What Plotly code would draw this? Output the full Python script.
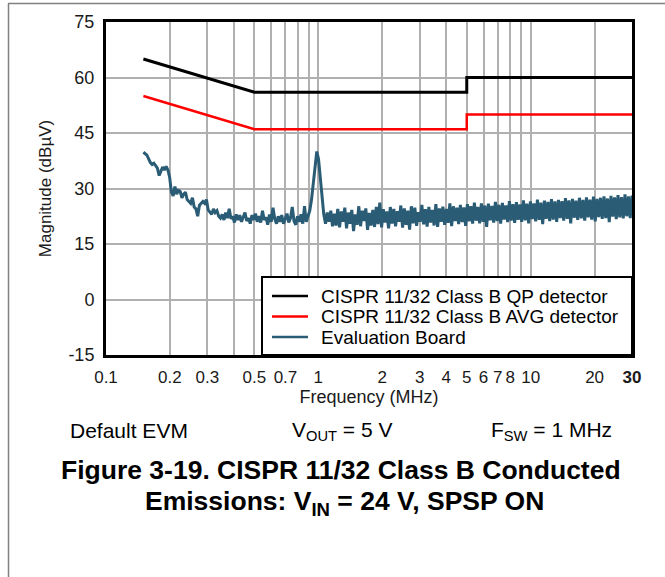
import numpy as np
import plotly.graph_objects as go

# CISPR 11/32 Class B conducted-emission limits (frequency in MHz, level in dBµV)
qp_freq = [0.15, 0.5, 5, 5, 30]
qp_level = [65, 56, 56, 60, 60]
avg_freq = [0.15, 0.5, 5, 5, 30]
avg_level = [55, 46, 46, 50, 50]

# Measured emissions of the evaluation board, one reading per sweep point
evm_dbuv = [
    39.8, 39.5, 39.0, 38.0, 37.0, 36.5, 36.8, 36.2, 35.5, 33.5,
    34.5, 35.8, 35.0, 36.0, 35.0, 33.0, 29.0, 28.0, 30.5, 28.5,
    29.5, 29.2, 27.5, 28.5, 29.0, 27.0, 26.5, 26.0, 27.5, 25.0,
    24.5, 22.5, 25.5, 26.0, 26.5, 26.0, 27.0, 24.2, 23.5, 23.0,
    24.5, 23.5, 24.0, 22.5, 22.0, 23.0, 21.5, 23.5, 22.0, 24.5,
    21.8, 22.5, 20.8, 23.0, 21.5, 22.8, 21.0, 22.2, 23.5, 21.2,
    22.0, 20.5, 22.8, 21.5, 23.2, 21.0, 22.5, 20.8, 24.0, 21.5,
    22.2, 20.2, 23.0, 21.0, 24.8, 21.8, 20.5, 22.5, 21.0, 22.8,
    20.5, 21.8, 23.2, 20.8, 22.0, 25.0, 21.2, 20.2, 22.5, 21.0,
    23.0, 20.5, 25.2, 21.0, 22.5, 24.0, 27.0, 32.0, 37.0, 40.0,
    38.0, 33.0, 27.0, 23.0, 20.5, 23.5, 21.0, 24.0, 19.8, 23.2,
    20.0, 24.5, 19.5, 23.8, 21.0, 24.8, 19.2, 23.5, 20.5, 24.2,
    18.5, 23.0, 20.2, 25.2, 19.8, 24.0, 21.2, 24.6, 18.8, 23.4,
    20.0, 24.2, 19.6, 25.0, 20.4, 26.2, 19.5, 24.4, 20.8, 23.8,
    19.2, 25.0, 20.5, 24.5, 19.8, 23.9, 21.0, 25.4, 19.4, 24.6,
    20.2, 24.0, 18.9, 25.2, 20.6, 24.8, 19.9, 23.6, 21.0, 25.6,
    20.3, 24.4, 19.7, 25.0, 20.8, 24.2, 20.0, 25.8, 19.6, 24.6,
    21.0, 25.1, 20.2, 24.5, 20.7, 26.0, 19.8, 25.2, 21.2, 24.8,
    20.4, 25.6, 20.9, 24.9, 19.9, 25.8, 21.1, 25.2, 20.5, 26.2,
    21.3, 25.0, 20.6, 26.0, 21.0, 25.4, 19.6, 25.9, 21.4, 25.3,
    20.8, 26.4, 21.2, 25.6, 20.5, 26.1, 21.6, 25.4, 20.9, 26.6,
    21.3, 25.8, 20.7, 26.3, 21.5, 25.7, 21.0, 26.8, 21.4, 25.9,
    20.6, 26.5, 21.7, 26.0, 21.1, 27.0, 21.5, 26.2, 20.4, 26.7,
    21.8, 26.4, 21.2, 27.1, 21.6, 26.5, 21.0, 26.9, 22.0, 26.6,
    21.3, 27.4, 21.8, 26.8, 20.6, 27.2, 22.1, 26.7, 21.5, 27.5,
    21.9, 26.9, 21.3, 27.6, 22.2, 27.0, 21.6, 27.8, 21.1, 27.2,
    22.3, 27.5, 21.8, 27.9, 22.0, 27.3, 20.9, 28.0, 22.4, 27.6,
    21.7, 28.2, 22.2, 27.7, 21.9, 28.4, 22.5, 27.9, 22.0, 28.1,
]
# Logarithmic sweep grid of the spectrum analyser, 150 kHz to 30 MHz
freq_mhz = np.geomspace(0.15, 30, len(evm_dbuv))

# Labelled frequency ticks, plus the extra unlabelled gridlines
x_ticks = [0.1, 0.2, 0.3, 0.5, 0.7, 1, 2, 3, 4, 5, 6, 7, 8, 10, 20, 30]
x_labels = ["0.1", "0.2", "0.3", "0.5", "0.7", "1", "2", "3", "4",
            "5", "6", "7", "8", "10", "20", "<b>30</b>"]
x_minor_grid = [0.4, 0.6, 0.8, 0.9, 9]
y_ticks = [-15, 0, 15, 30, 45, 60, 75]
y_labels = ["-15", "0", "15", "30", "45", "60", "75"]

FONT = "Arial, Liberation Sans, sans-serif"
W, H = 665, 577
PL, PR, PT, PB = 106, 632, 22, 355   # plot-area edges in pixels


def px_x(p):
    return (p - PL) / (PR - PL)


def px_y(p):
    return (PB - p) / (PB - PT)


series = [
    dict(name="CISPR 11/32 Class B QP detector", x=qp_freq, y=qp_level,
         color="#000000", width=3),
    dict(name="CISPR 11/32 Class B AVG detector", x=avg_freq, y=avg_level,
         color="#ff0000", width=2.5),
    dict(name="Evaluation Board", x=freq_mhz, y=evm_dbuv,
         color="#2a5c75", width=3),
]

fig = go.Figure()
for s in series:
    fig.add_trace(go.Scatter(x=s["x"], y=s["y"], mode="lines", name=s["name"],
                             line=dict(color=s["color"], width=s["width"]),
                             showlegend=False))

GRID = "#b0b0b0"
axis_common = dict(showgrid=True, gridcolor=GRID, gridwidth=1.5,
                   showline=True, linecolor="#000000", linewidth=3, mirror=True,
                   ticks="", zeroline=False)

fig.update_xaxes(type="log", range=[-1, np.log10(30)],
                 tickvals=x_ticks, ticktext=x_labels, ticklabelstandoff=5,
                 minor=dict(tickvals=x_minor_grid, showgrid=True,
                            gridcolor=GRID, gridwidth=1.5, ticks=""),
                 tickfont=dict(family=FONT, size=17, color="#1a1a1a"),
                 title=dict(text="Frequency (MHz)", standoff=2,
                            font=dict(family=FONT, size=18, color="#1a1a1a")),
                 **axis_common)
fig.update_yaxes(range=[-15, 75], tickvals=y_ticks, ticktext=y_labels,
                 ticklabelstandoff=5,
                 tickfont=dict(family=FONT, size=18, color="#1a1a1a"),
                 title=dict(text="Magnitude (dBµV)", standoff=13,
                            font=dict(family=FONT, size=17, color="#1a1a1a")),
                 **axis_common)

shapes = [
    # opaque legend box in the lower-right corner of the plot
    dict(type="rect", xref="paper", yref="paper",
         x0=px_x(262), x1=px_x(632), y0=px_y(355), y1=px_y(277),
         fillcolor="#ffffff", line=dict(color="#000000", width=2), layer="above"),
    # page frame, top and left edges
    dict(type="line", xref="paper", yref="paper",
         x0=px_x(8), x1=px_x(665), y0=px_y(3.5), y1=px_y(3.5),
         line=dict(color="#808080", width=1.5)),
    dict(type="line", xref="paper", yref="paper",
         x0=px_x(8.5), x1=px_x(8.5), y0=px_y(577), y1=px_y(3.5),
         line=dict(color="#808080", width=1.5)),
]

annotations = [
    dict(text="Default EVM", x=px_x(129), y=px_y(430), font=dict(size=21)),
    dict(text="V<sub>OUT</sub> = 5 V", x=px_x(342), y=px_y(431), font=dict(size=21)),
    dict(text="F<sub>SW</sub> = 1 MHz", x=px_x(551), y=px_y(431), font=dict(size=21)),
    dict(text="<b>Figure 3-19. CISPR 11/32 Class B Conducted</b>",
         x=px_x(341), y=px_y(470), font=dict(size=26.5)),
    dict(text="<b>Emissions: V<sub>IN</sub> = 24 V, SPSP ON</b>",
         x=px_x(344), y=px_y(503), font=dict(size=26.5)),
]
for a in annotations:
    a.update(xanchor="center")

# legend entries: line sample plus label, one row per series
legend_rows = [296, 316.5, 337]
for s, row in zip(series, legend_rows):
    shapes.append(dict(type="line", xref="paper", yref="paper",
                       x0=px_x(272), x1=px_x(308), y0=px_y(row), y1=px_y(row),
                       line=dict(color=s["color"], width=2.5), layer="above"))
    annotations.append(dict(text=s["name"], x=px_x(320), y=px_y(row),
                            xanchor="left", font=dict(size=19), borderpad=0))

for a in annotations:
    a.update(xref="paper", yref="paper", showarrow=False, yanchor="middle")
    a["font"].update(family=FONT, color="#000000")

fig.update_layout(
    width=W, height=H,
    margin=dict(l=PL, r=W - PR, t=PT, b=H - PB),
    paper_bgcolor="#ffffff", plot_bgcolor="#ffffff",
    font=dict(family=FONT, color="#1a1a1a"),
    showlegend=False,
    shapes=shapes,
    annotations=annotations,
)

fig.write_html("out.html")
